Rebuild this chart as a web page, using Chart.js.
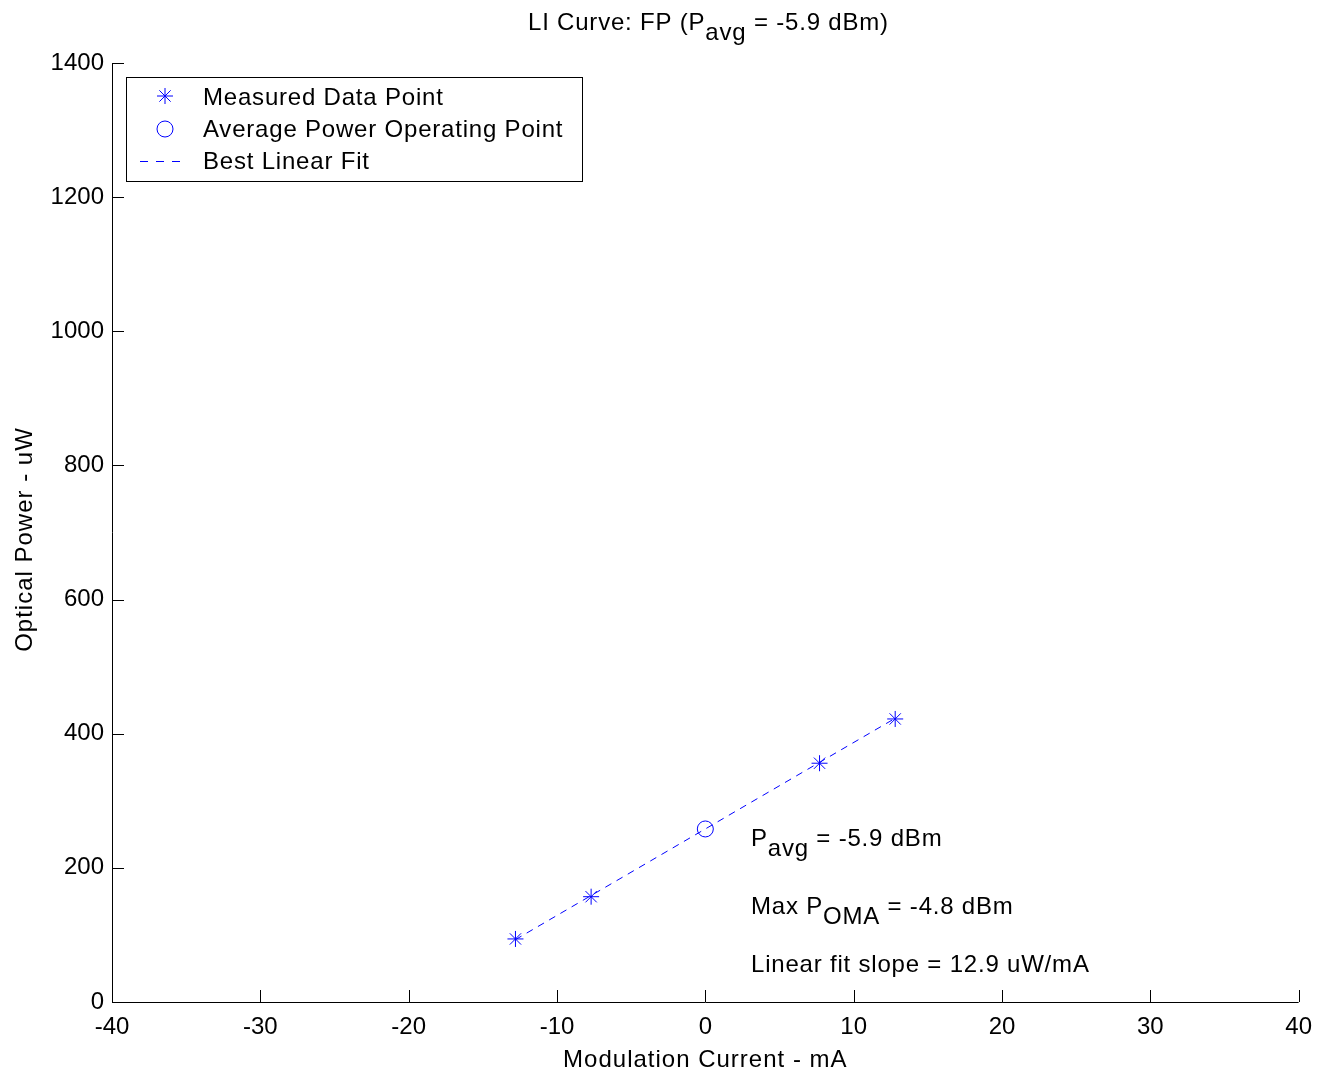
<!DOCTYPE html>
<html>
<head>
<meta charset="utf-8">
<title>LI Curve</title>
<script src="https://cdn.jsdelivr.net/npm/chart.js@4/dist/chart.umd.min.js"></script>
<style>
  html, body { margin: 0; padding: 0; background: #fff; }
  #wrap { width: 1323px; height: 1075px; }
</style>
</head>
<body>
<div id="wrap"><canvas id="li-chart" width="1323" height="1075"></canvas></div>
<script>
// measured LI points (mA, uW)
const measuredCurrent = [-12.8, -7.7, 7.7, 12.8];
const measuredPower = [94, 157, 356, 422];
// average power operating point
const avgCurrent = [0];
const avgPower = [258];
// best linear fit end points
const fitCurrent = [-12.8, 12.8];
const fitPower = [93, 423];
const xTicks = [-40, -30, -20, -10, 0, 10, 20, 30, 40];
const yTicks = [0, 200, 400, 600, 800, 1000, 1200, 1400];

const FONT = 'Helvetica, "Liberation Sans", Arial, sans-serif';
const BLUE = '#0000ff';
const TXT = 24;

const toXY = (xs, ys) => xs.map((x, i) => ({ x: x, y: ys[i] }));

// draw text with a subscript part: parts = [[text, isSub], ...]
function drawRich(ctx, parts, x, y, size) {
  let cx = x;
  parts.forEach(([t, sub]) => {
    ctx.font = size + 'px ' + FONT;
    ctx.fillText(t, cx, sub ? y + size * 0.42 : y);
    cx += ctx.measureText(t).width;
  });
  return cx;
}

function drawStar(ctx, x, y, r) {
  const d = r * Math.SQRT1_2;
  ctx.beginPath();
  ctx.moveTo(x - r, y); ctx.lineTo(x + r, y);
  ctx.moveTo(x, y - r); ctx.lineTo(x, y + r);
  ctx.moveTo(x - d, y - d); ctx.lineTo(x + d, y + d);
  ctx.moveTo(x - d, y + d); ctx.lineTo(x + d, y - d);
  ctx.stroke();
}

const axesPlugin = {
  id: 'matlabAxes',
  afterDraw(chart) {
    const ctx = chart.ctx;
    const a = chart.chartArea;
    const xs = chart.scales.x, ys = chart.scales.y;
    ctx.save();
    ctx.strokeStyle = '#000';
    ctx.lineWidth = 1;
    ctx.beginPath();
    ctx.moveTo(a.left + 0.5, a.top);
    ctx.lineTo(a.left + 0.5, a.bottom + 0.5);
    ctx.lineTo(a.right, a.bottom + 0.5);
    // inward ticks
    xTicks.forEach(v => {
      const px = Math.round(xs.getPixelForValue(v)) + 0.5;
      ctx.moveTo(px, a.bottom);
      ctx.lineTo(px, a.bottom - 12);
    });
    yTicks.forEach(v => {
      const py = Math.round(ys.getPixelForValue(v)) + 0.5;
      ctx.moveTo(a.left, py);
      ctx.lineTo(a.left + 12, py);
    });
    ctx.stroke();

    ctx.fillStyle = '#000';
    ctx.textBaseline = 'alphabetic';
    ctx.letterSpacing = '0.8px';

    // title
    drawRich(ctx, [['LI Curve: FP (P', false], ['avg', true], [' = -5.9 dBm)', false]], 528, 30, TXT);

    // axis titles
    ctx.letterSpacing = '1px';
    ctx.font = TXT + 'px ' + FONT;
    ctx.textAlign = 'center';
    ctx.fillText('Modulation Current - mA', (a.left + a.right) / 2, 1067);
    ctx.save();
    ctx.translate(32, (a.top + a.bottom) / 2 + 7);
    ctx.rotate(-Math.PI / 2);
    ctx.fillText('Optical Power - uW', 0, 0);
    ctx.restore();
    ctx.textAlign = 'left';

    // annotations
    ctx.letterSpacing = '0.8px';
    drawRich(ctx, [['P', false], ['avg', true], [' = -5.9 dBm', false]], 751, 846, TXT);
    drawRich(ctx, [['Max P', false], ['OMA', true], [' = -4.8 dBm', false]], 751, 914, TXT);
    drawRich(ctx, [['Linear fit slope = 12.9 uW/mA', false]], 751, 972, TXT);

    // legend
    ctx.strokeStyle = '#000';
    ctx.strokeRect(126.5, 77.5, 456, 104);
    ctx.font = TXT + 'px ' + FONT;
    ctx.textBaseline = 'middle';
    ctx.fillText('Measured Data Point', 203, 98);
    ctx.fillText('Average Power Operating Point', 203, 130);
    ctx.fillText('Best Linear Fit', 203, 162);
    ctx.strokeStyle = BLUE;
    drawStar(ctx, 165, 96, 8);
    ctx.beginPath();
    ctx.arc(165, 129, 8, 0, Math.PI * 2);
    ctx.stroke();
    ctx.setLineDash([8, 8]);
    ctx.beginPath();
    ctx.moveTo(140, 161.5);
    ctx.lineTo(181, 161.5);
    ctx.stroke();
    ctx.restore();
  }
};

new Chart(document.getElementById('li-chart'), {
  type: 'scatter',
  data: {
    datasets: [
      {
        label: 'Best Linear Fit',
        data: toXY(fitCurrent, fitPower),
        showLine: true,
        borderColor: BLUE,
        borderWidth: 1,
        borderDash: [7, 6],
        pointRadius: 0,
        order: 3
      },
      {
        label: 'Measured Data Point',
        data: toXY(measuredCurrent, measuredPower),
        pointStyle: 'star',
        pointRadius: 8,
        borderColor: BLUE,
        backgroundColor: BLUE,
        pointBorderWidth: 1,
        order: 1
      },
      {
        label: 'Average Power Operating Point',
        data: toXY(avgCurrent, avgPower),
        pointStyle: 'circle',
        pointRadius: 8,
        borderColor: BLUE,
        backgroundColor: 'rgba(0,0,0,0)',
        pointBorderWidth: 1,
        order: 2
      }
    ]
  },
  options: {
    responsive: false,
    animation: false,
    events: [],
    layout: { padding: { top: 63, right: 15, left: 0, bottom: 0 } },
    plugins: {
      legend: { display: false },
      tooltip: { enabled: false },
      title: { display: false }
    },
    scales: {
      x: {
        type: 'linear',
        min: -40,
        max: 40,
        afterBuildTicks: s => { s.ticks = xTicks.map(v => ({ value: v })); },
        afterFit: s => { s.height = 73; },
        grid: { display: false, drawTicks: false },
        border: { display: false },
        ticks: {
          color: '#000',
          font: { family: FONT, size: TXT },
          padding: 11,
          maxRotation: 0,
          callback: v => String(v)
        }
      },
      y: {
        type: 'linear',
        min: 0,
        max: 1400,
        afterBuildTicks: s => { s.ticks = yTicks.map(v => ({ value: v })); },
        afterFit: s => { s.width = 112; },
        grid: { display: false, drawTicks: false },
        border: { display: false },
        ticks: {
          color: '#000',
          font: { family: FONT, size: TXT },
          padding: 8,
          callback: v => String(v)
        }
      }
    }
  },
  plugins: [axesPlugin]
});
</script>
</body>
</html>
